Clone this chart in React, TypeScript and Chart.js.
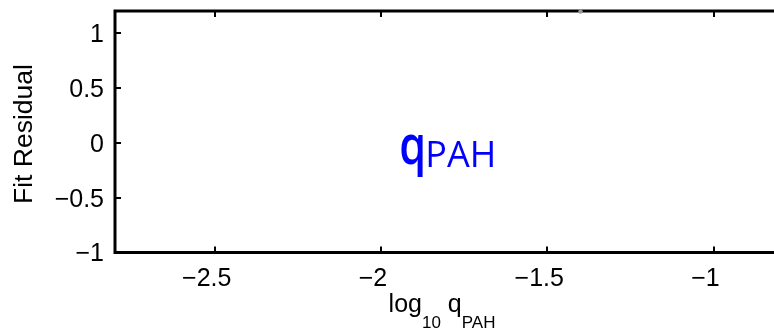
import { useEffect, useRef } from "react";
import { Chart, registerables } from "chart.js";

Chart.register(...registerables);

// ---- data ----
const xTicks = [-2.5, -2, -1.5, -1];
const yTicks = [-1, -0.5, 0, 0.5, 1];
const xMin = -2.8;
const xMax = -0.8;
const yMin = -1;
const yMax = 1.2;
const pointX = [-1.4];
const pointY = [1.195];
const annotationX = -1.94;
const annotationY = -0.194;
const annotationMain = "q";
const annotationSub = "PAH";
const yTitle = "Fit Residual";
const xTitleParts = ["log", "10", " q", "PAH"];
const xTitleIsSub = [false, true, false, true];

const fmt = (v: number) => (v < 0 ? "\u2212" : "") + String(Math.abs(v));
const FONT = "'Liberation Sans', Arial, Helvetica, sans-serif";

const axesPlugin = {
  id: "matlabAxes",
  beforeDatasetsDraw(chart: any) {
    const { ctx, chartArea: a, scales } = chart;
    ctx.save();
    ctx.strokeStyle = "#000";
    ctx.lineWidth = 3;
    ctx.lineJoin = "miter";
    ctx.beginPath();
    ctx.moveTo(a.right + 5, a.top);
    ctx.lineTo(a.left, a.top);
    ctx.lineTo(a.left, a.bottom);
    ctx.lineTo(a.right + 5, a.bottom);
    ctx.stroke();
    ctx.lineWidth = 2;
    ctx.beginPath();
    for (const v of xTicks) {
      const px = Math.round(scales.x.getPixelForValue(v));
      ctx.moveTo(px, a.bottom);
      ctx.lineTo(px, a.bottom - 6);
      ctx.moveTo(px, a.top);
      ctx.lineTo(px, a.top + 6);
    }
    for (const v of yTicks) {
      const py = Math.round(scales.y.getPixelForValue(v));
      ctx.moveTo(a.left, py);
      ctx.lineTo(a.left + 6, py);
    }
    ctx.stroke();
    ctx.restore();
  },
  afterDatasetsDraw(chart: any) {
    const { ctx, scales } = chart;
    ctx.save();
    ctx.fillStyle = "#0000ff";
    const ax = scales.x.getPixelForValue(annotationX);
    const ay = scales.y.getPixelForValue(annotationY);
    ctx.textBaseline = "alphabetic";
    ctx.textAlign = "left";
    ctx.font = "600 54px 'Open Sans', sans-serif";
    const m = ctx.measureText(annotationMain);
    const sx = 0.8;
    ctx.save();
    ctx.translate(ax, ay);
    ctx.scale(sx, 1);
    ctx.fillText(annotationMain, m.actualBoundingBoxLeft, 0);
    ctx.restore();
    const qRight = ax + (m.actualBoundingBoxLeft + m.actualBoundingBoxRight) * sx;
    ctx.font = "36px 'Open Sans', sans-serif";
    ctx.fillText(annotationSub, qRight + 2, ay + 3);
    ctx.restore();
  },
  afterDraw(chart: any) {
    const { ctx } = chart;
    ctx.save();
    ctx.fillStyle = "#000";
    ctx.translate(25, 134);
    ctx.rotate(-Math.PI / 2);
    ctx.font = `26.5px ${FONT}`;
    ctx.textAlign = "center";
    ctx.textBaseline = "middle";
    ctx.fillText(yTitle, 0, 0);
    ctx.restore();

    ctx.save();
    ctx.fillStyle = "#000";
    ctx.textAlign = "left";
    ctx.textBaseline = "alphabetic";
    const mainFont = `25px ${FONT}`;
    const subFont = `17px ${FONT}`;
    let total = 0;
    const widths: number[] = [];
    xTitleParts.forEach((t, i) => {
      ctx.font = xTitleIsSub[i] ? subFont : mainFont;
      const w = ctx.measureText(t).width;
      widths.push(w);
      total += w;
    });
    let x = 442 - total / 2;
    const base = 312;
    xTitleParts.forEach((t, i) => {
      ctx.font = xTitleIsSub[i] ? subFont : mainFont;
      ctx.fillText(t, x, xTitleIsSub[i] ? base + 16 : base);
      x += widths[i];
    });
    ctx.restore();
  },
};

export default function App() {
  const ref = useRef<HTMLCanvasElement | null>(null);
  useEffect(() => {
    if (!ref.current) return;
    const chart = new Chart(ref.current, {
      type: "scatter",
      data: {
        datasets: [
          {
            data: pointX.map((x, i) => ({ x, y: pointY[i] })),
            pointRadius: 2.2,
            pointHoverRadius: 2.2,
            backgroundColor: "#999999",
            borderWidth: 0,
            clip: false as any,
          },
        ],
      },
      options: {
        animation: false,
        responsive: false,
        devicePixelRatio: 1,
        layout: { padding: { top: 11, right: 20, left: 0, bottom: 0 } },
        plugins: { legend: { display: false }, tooltip: { enabled: false }, title: { display: false } },
        scales: {
          x: {
            type: "linear",
            min: xMin,
            max: xMax,
            afterBuildTicks: (s: any) => {
              s.ticks = xTicks.map((v) => ({ value: v }));
            },
            afterFit: (s: any) => {
              s.height = 78.5;
              s.paddingLeft = 0;
              s.paddingRight = 0;
            },
            grid: { display: false, drawTicks: false },
            border: { display: false },
            ticks: {
              color: "#000",
              font: { family: FONT, size: 25 },
              padding: 12,
              labelOffset: -8,
              maxRotation: 0,
              callback: (v: any) => fmt(Number(v)),
            },
          },
          y: {
            type: "linear",
            min: yMin,
            max: yMax,
            afterBuildTicks: (s: any) => {
              s.ticks = yTicks.map((v) => ({ value: v }));
            },
            afterFit: (s: any) => {
              s.width = 115;
              s.paddingTop = 0;
              s.paddingBottom = 0;
            },
            grid: { display: false, drawTicks: false },
            border: { display: false },
            ticks: {
              color: "#000",
              font: { family: FONT, size: 25 },
              padding: 11,
              labelOffset: 2,
              callback: (v: any) => fmt(Number(v)),
            },
          },
        },
      },
      plugins: [axesPlugin],
    });
    return () => chart.destroy();
  }, []);
  return (
    <div style={{ position: "fixed", left: 0, top: 0, width: 774, height: 331, overflow: "hidden", background: "#fff" }}>
      <canvas ref={ref} width={800} height={331} style={{ width: 800, height: 331, display: "block" }} />
    </div>
  );
}
